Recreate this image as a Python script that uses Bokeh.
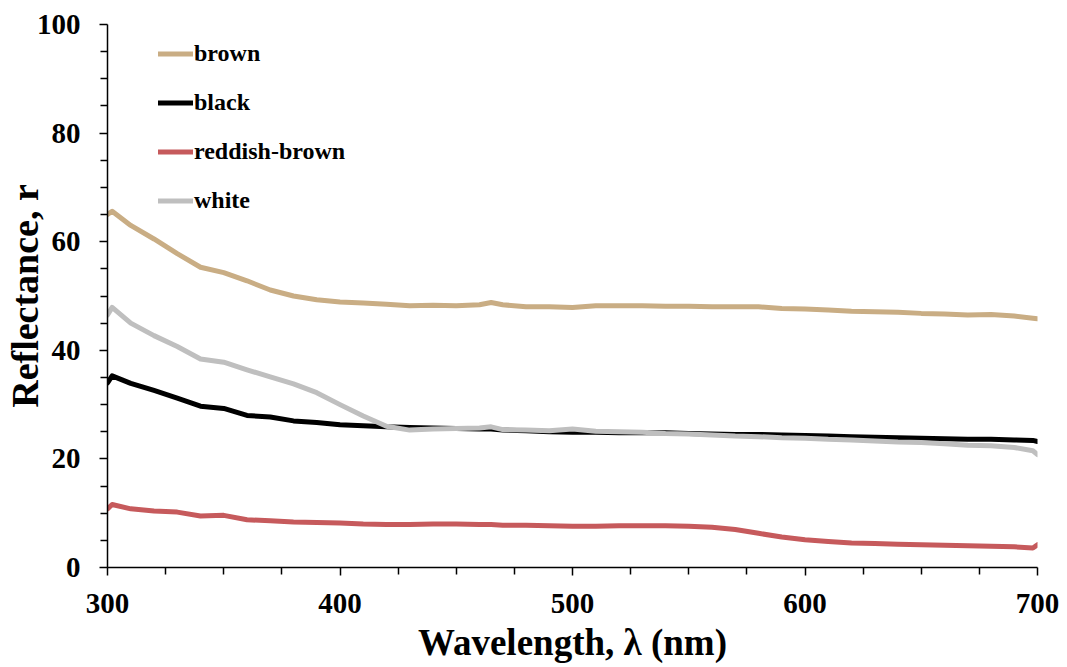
from bokeh.plotting import figure
from bokeh.models import FixedTicker, Range1d, Legend, LegendItem
from bokeh.embed import file_html
from bokeh.resources import INLINE

wavelength = [300, 302, 310, 320, 330, 340, 350, 360, 370, 380, 390, 400, 410, 420, 430,
              440, 450, 460, 465, 470, 480, 490, 500, 510, 520, 530, 540, 550, 560, 570,
              580, 590, 600, 610, 620, 630, 640, 650, 660, 670, 680, 690, 698, 700]

brown = [65.0, 65.6, 63.0, 60.5, 57.8, 55.3, 54.3, 52.8, 51.1, 50.0, 49.3, 48.9, 48.7, 48.5, 48.2,
         48.3, 48.2, 48.4, 48.8, 48.4, 48.0, 48.0, 47.9, 48.2, 48.2, 48.2, 48.1, 48.1, 48.0, 48.0,
         48.0, 47.7, 47.6, 47.4, 47.2, 47.1, 47.0, 46.8, 46.7, 46.5, 46.6, 46.3, 45.9, 45.8]

black = [34.0, 35.3, 33.9, 32.6, 31.2, 29.7, 29.3, 28.0, 27.7, 27.0, 26.7, 26.3, 26.1, 25.9, 25.8,
         25.7, 25.6, 25.5, 25.5, 25.3, 25.2, 25.0, 24.9, 24.9, 24.8, 24.8, 24.8, 24.7, 24.6, 24.5,
         24.5, 24.4, 24.3, 24.2, 24.1, 24.0, 23.9, 23.8, 23.7, 23.6, 23.6, 23.5, 23.4, 23.2]

reddish_brown = [10.8, 11.6, 10.8, 10.4, 10.2, 9.5, 9.6, 8.8, 8.6, 8.4, 8.3, 8.2, 8.0, 7.9, 7.9,
                 8.0, 8.0, 7.9, 7.9, 7.8, 7.8, 7.7, 7.6, 7.6, 7.7, 7.7, 7.7, 7.6, 7.4, 7.0,
                 6.3, 5.6, 5.1, 4.8, 4.5, 4.4, 4.3, 4.2, 4.1, 4.0, 3.9, 3.8, 3.6, 4.2]

white = [46.5, 47.9, 45.0, 42.7, 40.7, 38.4, 37.8, 36.4, 35.1, 33.8, 32.2, 30.0, 27.9, 26.0, 25.3,
         25.5, 25.6, 25.7, 25.9, 25.4, 25.3, 25.2, 25.5, 25.1, 25.0, 24.9, 24.7, 24.6, 24.4, 24.2,
         24.1, 23.9, 23.8, 23.6, 23.5, 23.3, 23.1, 23.0, 22.8, 22.5, 22.4, 22.1, 21.5, 20.8]

series_names = ["brown", "black", "reddish-brown", "white"]
series_values = [brown, black, reddish_brown, white]
series_colors = ["#C9AD84", "#000000", "#C65A5C", "#BFBFBF"]

x_major = [300, 400, 500, 600, 700]
x_minor = [325, 350, 375, 425, 450, 475, 525, 550, 575, 625, 650, 675]
y_major = [0, 20, 40, 60, 80, 100]
y_minor = [5, 10, 15, 25, 30, 35, 45, 50, 55, 65, 70, 75, 85, 90, 95]

x_title = "Wavelength, λ (nm)"
y_title = "Reflectance, r"

FONT = "Liberation Serif"

p = figure(output_backend="svg", toolbar_location=None,
           x_range=Range1d(300, 700), y_range=Range1d(0, 100),
           frame_width=930, frame_height=543,
           min_border_left=106, min_border_top=24, min_border_right=28, min_border_bottom=98)

p.outline_line_color = None
p.xgrid.grid_line_color = None
p.ygrid.grid_line_color = None
p.background_fill_color = "white"
p.border_fill_color = "white"

items = []
for name, vals, col in zip(series_names, series_values, series_colors):
    r = p.line(wavelength, vals, line_color=col, line_width=5, line_join="round", line_cap="round")
    items.append(LegendItem(label=name, renderers=[r]))

legend = Legend(items=items, location=(51, 353), orientation="vertical",
                margin=0, padding=0, spacing=22, glyph_width=35, glyph_height=25,
                label_height=25, label_standoff=1,
                label_text_font=FONT, label_text_font_style="bold",
                label_text_font_size="24px", label_text_color="black",
                border_line_alpha=0, background_fill_alpha=0)
p.add_layout(legend, "center")

for ax in (p.xaxis[0], p.yaxis[0]):
    ax.axis_line_color = "black"
    ax.axis_line_width = 1.5
    ax.major_tick_line_color = "black"
    ax.minor_tick_line_color = "black"
    ax.major_tick_line_width = 1.5
    ax.minor_tick_line_width = 1.5
    ax.major_tick_out = 8
    ax.major_tick_in = 0
    ax.minor_tick_out = 7
    ax.minor_tick_in = 0
    ax.major_label_text_font = FONT
    ax.major_label_text_font_style = "bold"
    ax.major_label_text_font_size = "29px"
    ax.major_label_text_color = "black"
    ax.axis_label_text_font = FONT
    ax.axis_label_text_font_style = "bold"
    ax.axis_label_text_color = "black"

p.xaxis[0].ticker = FixedTicker(ticks=x_major, minor_ticks=x_minor)
p.yaxis[0].ticker = FixedTicker(ticks=y_major, minor_ticks=y_minor)
p.xaxis[0].major_label_standoff = 18
p.yaxis[0].major_label_standoff = 19
p.xaxis[0].axis_label = x_title
p.yaxis[0].axis_label = y_title
p.xaxis[0].axis_label_text_font_size = "37px"
p.yaxis[0].axis_label_text_font_size = "38px"
p.xaxis[0].axis_label_standoff = 6
p.yaxis[0].axis_label_standoff = -12

open("out.html", "w").write(file_html(p, INLINE))
